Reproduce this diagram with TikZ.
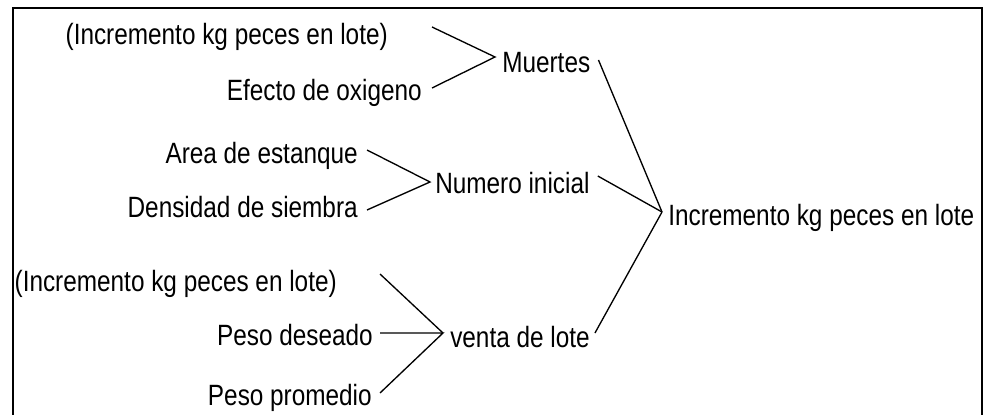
\documentclass[tikz,border=0pt]{standalone}
\usepackage{fontspec}
\setmainfont[FakeStretch=0.83]{Liberation Sans}
\usetikzlibrary{calc}

\begin{document}
\begin{tikzpicture}[x=0.75pt,y=0.75pt,yscale=-1,xscale=1,
	lbl/.style={inner sep=0,font=\fontsize{22}{26}\selectfont}]
	\useasboundingbox (0,0) rectangle (992,414);

	%frame, open at the bottom
	\draw [line width=1.5] (13,416) -- (13,8) -- (982,8) -- (982,416);

	\node [lbl, anchor=base east] (inca) at (388,44) {(Incremento kg peces en lote)};
	\node [lbl, anchor=base east] (oxig) at (422,100) {Efecto de oxigeno};
	\node [lbl, anchor=base west] (muer) at (502,72) {Muertes};
	\node [lbl, anchor=base east] (area) at (358,163) {Area de estanque};
	\node [lbl, anchor=base east] (dens) at (358,217) {Densidad de siembra};
	\node [lbl, anchor=base west] (nume) at (435,193) {Numero inicial};
	\node [lbl, anchor=base east] (incb) at (337,291) {(Incremento kg peces en lote)};
	\node [lbl, anchor=base east] (pdes) at (373,345) {Peso deseado};
	\node [lbl, anchor=base east] (pprom) at (372,405) {Peso promedio};
	\node [lbl, anchor=base west] (vent) at (450,347) {venta de lote};
	\node [lbl, anchor=base west] (incr) at (668,225) {Incremento kg peces en lote};

	\coordinate (jm) at ($(muer.base west)+(-7,-15)$);
	\coordinate (jn) at ($(nume.base west)+(-5,-11)$);
	\coordinate (jv) at ($(vent.base west)+(-7,-14)$);
	\coordinate (ji) at ($(incr.base west)+(-6,-13)$);

	\draw [line width=1] ($(inca.base east)+(44,-17)$) -- (jm) -- ($(oxig.base east)+(10,-12)$);
	\draw [line width=1] ($(area.base east)+(9,-13)$) -- (jn) -- ($(dens.base east)+(9,-7)$);
	\draw [line width=1] ($(incb.base east)+(43,-17)$) -- (jv);
	\draw [line width=1] ($(pdes.base east)+(7,-12)$) -- (jv) -- ($(pprom.base east)+(8,-12)$);
	\draw [line width=1] ($(muer.base east)+(8,-12)$) -- (ji);
	\draw [line width=1] ($(nume.base east)+(8,-17)$) -- (ji);
	\draw [line width=1] ($(vent.base east)+(5,-14)$) -- (ji);
\end{tikzpicture}
\end{document}
